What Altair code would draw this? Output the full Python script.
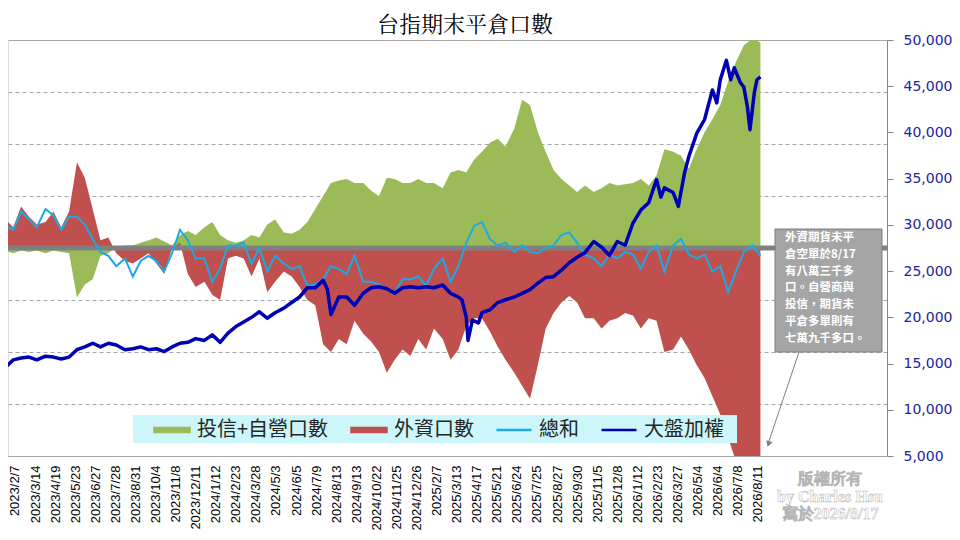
import json
import altair as alt
import pandas as pd

# trading-day position of every sample (about every 9 trading days)
days = [0, 9, 18, 27, 36, 46, 55, 64, 73, 82, 91, 100, 109, 118, 127, 137, 146, 155, 164, 173,
        182, 191, 200, 209, 218, 228, 237, 246, 255, 264, 273, 282, 291, 300, 309, 319, 328, 337, 346, 355,
        364, 373, 382, 391, 400, 410, 419, 428, 437, 446, 455, 464, 473, 482, 491, 501, 510, 519, 528, 537,
        546, 555, 564, 573, 583, 592, 601, 610, 619, 628, 637, 646, 655, 664, 674, 683, 692, 701, 710, 719,
        728, 737, 746, 755, 765, 774, 783, 792, 801, 810, 819, 828, 837, 846, 856, 865]

# 投信+自營口數
green = [-1000, -2000, -1000, -1500, -1000, -2000, -1000, -1500, -2000, -19000,
         -14000, -12000, -3000, -2000, 500, 1000, 1000, 2000, 3000, 4000,
         2500, 1000, 5000, 6500, 5000, 8000, 10000, 5000, 3000, 2000,
         3000, 5000, 4000, 9000, 11000, 6000, 5500, 7000, 10000, 15000,
         20000, 25000, 26000, 26500, 25000, 25000, 22000, 20000, 27000, 26500,
         25000, 25000, 26500, 25000, 25000, 23000, 29000, 30000, 29000, 34000,
         37000, 40500, 42000, 39000, 46000, 57000, 55000, 44500, 37000, 30000,
         26500, 24000, 21500, 24000, 21500, 23000, 25000, 24000, 24500, 25000,
         26500, 24000, 28000, 38000, 37000, 35500, 30500, 38000, 44500, 49500,
         55000, 64000, 71500, 78000, 80500, 79000]

# 外資口數
red = [11000, 8000, 16000, 12000, 9000, 10000, 14000, 8000, 14000, 33000,
       27000, 15000, 3000, 4000, -2000, -5000, -6000, -4000, -2000, -6000,
       -10000, 0, 2000, -10000, -15000, -13000, -18000, -20000, -4000, -3000,
       -4000, -11000, -4000, -17000, -13000, -9000, -11000, -15000, -20000, -22000,
       -37000, -40000, -35000, -37000, -28000, -33000, -36000, -40000, -48000, -43000,
       -39000, -41500, -35000, -39000, -31000, -35000, -43000, -39000, -30000, -27000,
       -27000, -32000, -38000, -43000, -48000, -53000, -58000, -45000, -31000, -25000,
       -21000, -18500, -21000, -27000, -27000, -31000, -28000, -27000, -25000, -26000,
       -31000, -27000, -28000, -40000, -39000, -34000, -39000, -45000, -50000, -57000,
       -64000, -73000, -82000, -85000, -84000, -83000]

# 總和
total = [8500, 7000, 14000, 11000, 8000, 15000, 12500, 7000, 12000, 12000,
         9000, 3500, -1500, -3000, -7000, -4000, -11000, -5000, -3000, -5000,
         -9000, -2000, 7000, 3000, -4000, -4000, -13000, -8000, 1000, 1000,
         2000, -6000, 0, -9000, -3000, -6000, -8000, -7000, -14500, -14000,
         -12000, -7000, -8000, -10000, -3000, -13000, -13000, -14000, -16000, -17000,
         -12000, -12000, -11000, -14500, -8000, -4000, -13000, -7000, 2000, 8500,
         10000, 3500, 1000, 2000, -1500, 1000, -1500, -2000, 0, 1000,
         5000, 6000, 2000, -2500, -4000, -7000, -2500, -4000, -1500, -2500,
         -8000, -1500, 1000, -9000, 1000, 3500, -2500, -4000, -2500, -9000,
         -7000, -17000, -9000, -1500, 1000, -3000]

# 大盤加權
taiex_days = [0, 9, 18, 27, 36, 46, 55, 64, 73, 82, 91, 100, 109, 118, 127, 137, 146, 155, 164, 173,
              182, 191, 200, 209, 218, 228, 237, 246, 255, 264, 273, 282, 291, 300, 309, 319, 328, 337, 346, 355,
              364, 369, 373, 382, 391, 400, 410, 419, 428, 437, 446, 455, 464, 473, 482, 491, 501, 510, 519, 523,
              528, 530, 535, 542, 546, 555, 564, 573, 583, 592, 601, 610, 619, 628, 637, 646, 655, 664, 674, 683,
              692, 701, 710, 719, 728, 737, 746, 751, 755, 765, 771, 778, 783, 792, 801, 810, 815, 819, 826, 831,
              835, 842, 846, 850, 853, 858, 861, 865]
taiex = [14600, 15400, 15600, 15700, 15400, 15800, 15700, 15500, 15700, 16500, 16800, 17200, 16800, 17200, 17000,
         16500, 16600, 16800, 16500, 16600, 16300, 16800, 17200, 17300, 17700, 17500, 18100, 17300, 18300, 19000,
         19500, 20000, 20600, 19900, 20500, 21000, 21600, 22200, 23200, 23200, 24000, 23000, 20300, 22200, 22200,
         21300, 22600, 23200, 23300, 23100, 22600, 23200, 23300, 23200, 23300, 23200, 23500, 22600, 22200, 21900,
         20000, 17500, 19700, 19400, 20500, 20800, 21600, 21900, 22200, 22600, 23000, 23700, 24300, 24400, 25100,
         25900, 26500, 27000, 28200, 27600, 26700, 28200, 27800, 30200, 31600, 32400, 34900, 33000, 34000, 33500,
         32000, 35600, 37400, 39900, 41400, 44600, 43200, 45700, 47800, 45700, 47000, 45400, 44900, 42800, 40300,
         44300, 45700, 46000]

tick_labels = ["2023/2/7", "2023/3/14", "2023/4/19", "2023/5/23", "2023/6/27", "2023/7/28", "2023/8/31",
               "2023/10/4", "2023/11/8", "2023/12/11", "2024/1/12", "2024/2/23", "2024/3/28", "2024/5/3",
               "2024/6/5", "2024/7/9", "2024/8/13", "2024/9/13", "2024/10/22", "2024/11/25", "2024/12/26",
               "2025/2/7", "2025/3/13", "2025/4/17", "2025/5/21", "2025/6/24", "2025/7/25", "2025/8/27",
               "2025/9/30", "2025/11/5", "2025/12/8", "2026/1/12", "2026/2/23", "2026/3/27", "2026/5/4",
               "2026/6/4", "2026/7/8", "2026/8/11"]
tick_days = [11 + 23 * k for k in range(len(tick_labels))]  # a label every 23 trading days

series_names = ["投信+自營口數", "外資口數", "總和", "大盤加權"]
series_colors = ["#9BBB59", "#C0504D", "#1AABE4", "#0000B4"]
BAR = "M-1,-0.12H1V0.12H-1Z"
series_shapes = [BAR, BAR, "stroke", "stroke"]

callout_lines = ["外資期貨未平", "倉空單於8/17", "有八萬三千多", "口。自營商與",
                 "投信，期貨未", "平倉多單則有", "七萬九千多口。"]
watermark_lines = ["版權所有", "by Charles Hsu", "寫於2026/8/17"]
title_text = "台指期末平倉口數"

CJK = "Noto Sans CJK TC"

df = pd.DataFrame({"day": days, "green": green, "red": red, "total": total})
df_taiex = pd.DataFrame({"day": taiex_days, "taiex": taiex})
# legend keys: placed left of the x domain, so they are clipped away and only feed the legend
df_keys = pd.DataFrame({"series": series_names, "day": [-50] * 4, "v": [0] * 4})
one = pd.DataFrame({"a": [0]})

x_scale = alt.Scale(domain=[3, 1010], nice=False, zero=False)
y1_scale = alt.Scale(domain=[-80000, 80000], nice=False)
y2_scale = alt.Scale(domain=[5000, 50000], nice=False, zero=False)
color_scale = alt.Scale(domain=series_names, range=series_colors)
shape_scale = alt.Scale(domain=series_names, range=series_shapes)

x_axis = alt.Axis(values=tick_days, labelExpr=f"{json.dumps(tick_labels)}[round((datum.value - 11) / 23)]",
                  labelAngle=270, labelFont="Liberation Sans", labelFontSize=13, labelColor="black",
                  ticks=False, domainColor="#A6A6A6", grid=False, labelPadding=9, labelOverlap=False,
                  title=None)
y1_axis = alt.Axis(orient="left", values=[-80000, -60000, -40000, -20000, 20000, 40000, 60000, 80000],
                   labels=False, ticks=False, domain=False, grid=True, gridColor="#A6A6A6",
                   gridDash={"condition": {"test": "abs(datum.value) >= 80000", "value": []}, "value": [4, 3]},
                   title=None)
y2_axis = alt.Axis(orient="right", values=list(range(5000, 50001, 5000)),
                   labelExpr="format(datum.value, ',')",
                   labelColor="#23239E", labelFont="DejaVu Sans", labelFontSize=14,
                   tickSize=6, tickColor="#868686", domainColor="#868686", labelPadding=10,
                   grid=False, title=None)

legend = alt.Legend(
    title=None, orient="none", legendX=145, legendY=371, direction="horizontal",
    padding=0, labelFont=CJK, labelFontSize=20, labelColor="#262626",
    symbolSize=1225, symbolStrokeWidth=2.5, symbolOpacity=1, labelOffset=6, columnPadding=17,
)

x_enc = alt.X("day:Q", scale=x_scale, axis=x_axis)

green_area = alt.Chart(df).mark_area(clip=True, color=series_colors[0], opacity=1).encode(
    x=x_enc, y=alt.Y("green:Q", scale=y1_scale, axis=y1_axis, stack=None)
)
red_area = alt.Chart(df).mark_area(clip=True, color=series_colors[1], opacity=1).encode(
    x=x_enc, y=alt.Y("red:Q", scale=y1_scale, axis=y1_axis, stack=None)
)
zero_line = alt.Chart(one).mark_rule(color="#808080", strokeWidth=5).encode(
    y=alt.YDatum(0, scale=y1_scale)
)
sum_line = alt.Chart(df).mark_line(clip=True, color=series_colors[2], strokeWidth=2).encode(
    x=x_enc, y=alt.Y("total:Q", scale=y1_scale, axis=y1_axis)
)
keys = alt.Chart(df_keys).mark_point(clip=True, filled=True, opacity=1, size=1225, strokeWidth=2.5).encode(
    x=x_enc, y=alt.Y("v:Q", scale=y1_scale, axis=y1_axis),
    color=alt.Color("series:N", scale=color_scale, legend=legend),
    stroke=alt.Stroke("series:N", scale=color_scale, legend=legend),
    shape=alt.Shape("series:N", scale=shape_scale, legend=legend),
)
taiex_line = alt.Chart(df_taiex).mark_line(clip=True, color=series_colors[3], strokeWidth=3.5,
                                           strokeJoin="round").encode(
    x=x_enc, y=alt.Y("taiex:Q", scale=y2_scale, axis=y2_axis)
)

main = alt.layer(
    alt.layer(green_area, red_area, zero_line, sum_line, keys), taiex_line
).resolve_scale(y="independent")

# legend background
legend_box = alt.Chart(one).mark_rect(color="#CCF6F9").encode(
    x=alt.value(125), x2=alt.value(729), y=alt.value(375), y2=alt.value(403)
)

# callout
callout_box = alt.Chart(one).mark_rect(color="#A5A5A5", stroke="#7F7F7F", strokeWidth=1).encode(
    x=alt.value(767), x2=alt.value(874), y=alt.value(189), y2=alt.value(312)
)
callout_text = alt.Chart(one).mark_text(
    text=callout_lines, align="left", baseline="top", font=CJK, fontSize=11.5, fontWeight="bold",
    color="white", lineHeight=16.8
).encode(x=alt.value(777), y=alt.value(192))
arrow_line = alt.Chart(one).mark_rule(color="#7F7F7F", strokeWidth=1).encode(
    x=alt.value(791), y=alt.value(312), x2=alt.value(760), y2=alt.value(404)
)
arrow_head = alt.Chart(one).mark_point(shape="triangle-up", filled=True, color="#7F7F7F", size=45,
                                       angle=198, opacity=1).encode(
    x=alt.value(760.5), y=alt.value(404)
)

watermark = alt.Chart(one).mark_text(
    text=watermark_lines, align="center", baseline="top", font="Liberation Serif", fontSize=16,
    fontWeight="bold", fill="white", stroke="#B4B4B4", strokeWidth=0.5, lineHeight=17.5
).encode(x=alt.value(822), y=alt.value(431))

title = alt.Chart(one).mark_text(
    text=title_text, align="center", baseline="middle", font=f"'Noto Serif CJK TC', '{CJK}'", fontSize=22,
    color="black"
).encode(x=alt.value(457), y=alt.value(-15))

chart = alt.layer(
    main, legend_box, callout_box, callout_text, arrow_line, arrow_head, watermark, title
).properties(
    width=879, height=416,
    autosize=alt.AutoSizeParams(type="none"),
    padding={"left": 0, "top": 32, "right": 65, "bottom": 76},
).configure_view(stroke=None).configure(background="white")

chart.save("out.html", embed_options={"renderer": "svg", "actions": False})
